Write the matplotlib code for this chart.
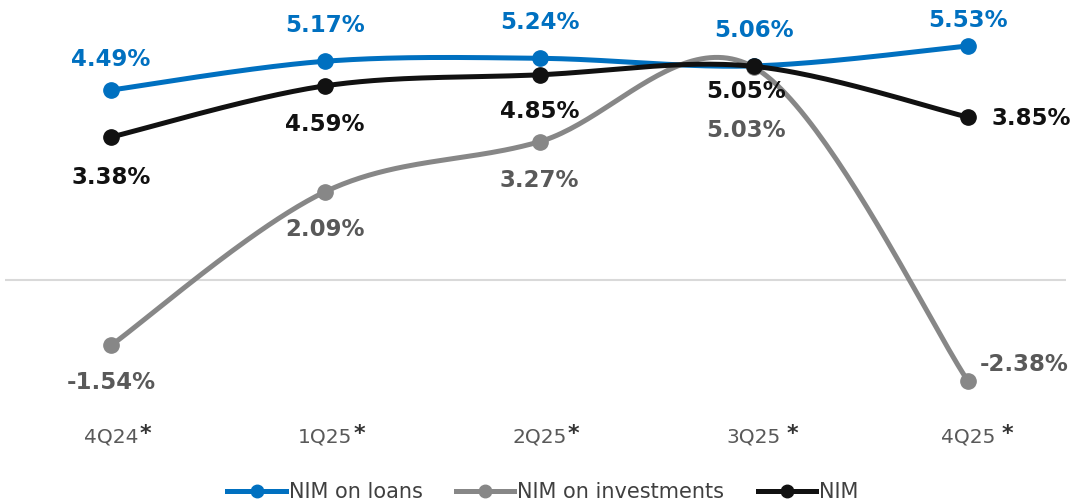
import matplotlib
matplotlib.use("Agg")
import matplotlib.pyplot as plt
import numpy as np

# Quarterly NIM figures (%)
quarters = ["4Q24", "1Q25", "2Q25", "3Q25", "4Q25"]
star_gap = [1, 1, 1, 6, 6]     # px gap before the asterisk
nim_loans = [4.49, 5.17, 5.24, 5.06, 5.53]
nim_invest = [-1.54, 2.09, 3.27, 5.03, -2.38]
nim_total = [3.38, 4.59, 4.85, 5.05, 3.85]

# label offsets in pixels (dx, dy) relative to each point
off_loans = [(0, 31), (0, 36), (0, 36), (0, 35), (0, 26)]
off_invest = [(0, -37), (0, -38), (0, -39), (-8, -63), (56, 16)]
off_total = [(0, -40), (0, -39), (0, -37), (-8, -25), (63, -1)]

BLUE = "#0070C0"
GRAY = "#878787"
GRAY_TXT = "#595959"
BLACK = "#111111"

W, H = 1071, 504
fig = plt.figure(figsize=(W / 100, H / 100), dpi=100)
# axes spans full height; x from px 5 to 1066
ax = fig.add_axes([5 / W, 0, 1061 / W, 1])
ppu = 42.35          # pixels per percentage point
y0 = 280.2           # pixel row of the zero line
ax.set_ylim((y0 - H) / ppu, y0 / ppu)
step = 214.25
ax.set_xlim((5 - 111) / step, (1066 - 111) / step)
ax.axis("off")

x = np.arange(len(quarters))


def smooth(xs, ys, n=50):
    # Excel-like smoothing (Catmull-Rom Bezier in screen space)
    pts = ax.transData.transform(np.column_stack([xs, ys]))
    out = []
    for i in range(len(pts) - 1):
        p0 = pts[max(i - 1, 0)]
        p1 = pts[i]
        p2 = pts[i + 1]
        p3 = pts[min(i + 2, len(pts) - 1)]
        c1 = p1 + (p2 - p0) / 6
        c2 = p2 - (p3 - p1) / 6
        t = np.linspace(0, 1, n)[:, None]
        seg = ((1 - t) ** 3 * p1 + 3 * (1 - t) ** 2 * t * c1
               + 3 * (1 - t) * t ** 2 * c2 + t ** 3 * p2)
        out.append(seg if i == 0 else seg[1:])
    res = ax.transData.inverted().transform(np.vstack(out))
    return res[:, 0], res[:, 1]


ax.axhline(0, color="#d9d9d9", lw=1.5, zorder=1)

series = [
    ("NIM on loans", nim_loans, BLUE, BLUE, off_loans),
    ("NIM on investments", nim_invest, GRAY, GRAY_TXT, off_invest),
    ("NIM", nim_total, BLACK, BLACK, off_total),
]

handles = []
for z, (name, vals, col, tcol, offs) in enumerate(series):
    sx, sy = smooth(x, vals)
    ax.plot(sx, sy, color=col, lw=3.6, solid_capstyle="round", zorder=3 + z)
    ax.plot(x, vals, "o", color=col, ms=11, zorder=3 + z)
    h, = ax.plot([], [], color=col, lw=3.6, marker="o", ms=9)
    handles.append((h, name))
    for xi, v, (dx, dy) in zip(x, vals, offs):
        ax.annotate(f"{v:.2f}%", xy=(xi, v), xytext=(dx, dy),
                    textcoords="offset pixels", ha="center", va="center",
                    fontsize=16.5, fontweight="bold", color=tcol, zorder=10)

# category labels with raised asterisk
for xi, q, gap in zip(x, quarters, star_gap):
    t = ax.text(xi, 67 / H, q, transform=ax.get_xaxis_transform(),
                ha="center", va="center", fontsize=14.5, color="#595959")
    ax.annotate("*", xy=(1, 1), xycoords=t, xytext=(gap, -13),
                textcoords="offset pixels", ha="left", va="baseline",
                fontsize=16, fontweight="bold", color="#333333")

fig.legend([h for h, _ in handles], [n for _, n in handles],
           loc="center", bbox_to_anchor=(543 / W, 12 / H), ncol=3,
           frameon=False, fontsize=15, handlelength=2.8,
           handletextpad=0.15, columnspacing=1.6, borderpad=0,
           labelcolor="#404040")

fig.savefig("out.png", dpi=100)
